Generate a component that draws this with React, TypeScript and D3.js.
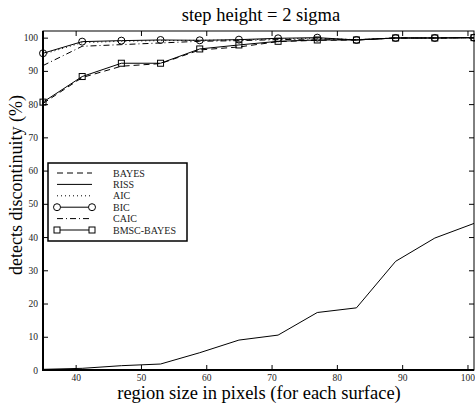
import React, { useEffect, useRef } from "react";
import * as d3 from "d3";

const sizes = [35, 41, 47, 53, 59, 65, 71, 77, 83, 89, 95, 101];
const bayes = [80.2, 88.0, 91.4, 92.2, 96.3, 97.2, 98.8, 99.2, 99.3, 99.9, 99.9, 100];
const riss = [0.2, 0.5, 1.3, 1.8, 5.2, 9.0, 10.5, 17.3, 18.7, 32.7, 39.7, 44.1];
const aic = [95.0, 98.5, 98.9, 99.1, 99.2, 99.3, 99.6, 99.8, 99.4, 99.9, 99.9, 100];
const bic = [95.3, 98.8, 99.1, 99.3, 99.2, 99.4, 99.8, 100, 99.3, 99.9, 99.9, 100];
const caic = [91.6, 97.4, 97.9, 98.4, 98.9, 99.1, 99.4, 99.6, 99.4, 99.9, 99.9, 100];
const bmsc = [80.6, 88.3, 92.3, 92.3, 96.6, 97.8, 98.9, 99.3, 99.3, 99.9, 99.9, 100];

const xTicks = [40, 50, 60, 70, 80, 90, 100];
const yTicks = [0, 10, 20, 30, 40, 50, 60, 70, 80, 90, 100];

const seriesNames = ["BAYES", "RISS", "AIC", "BIC", "CAIC", "BMSC-BAYES"];
const seriesValues = [bayes, riss, aic, bic, caic, bmsc];
const dashes = ["6,4", null, "1,3", null, "6,3,1,3", null];
const markers = [null, null, null, "circle", null, "square"];

export default function App() {
  const ref = useRef<SVGSVGElement>(null);

  useEffect(() => {
    const svg = d3.select(ref.current);
    svg.selectAll("*").remove();
    const width = 475;
    const height = 409;
    const margin = { top: 31, left: 43, bottom: 39, right: 1 };
    const iwidth = width - margin.left - margin.right;
    const iheight = height - margin.top - margin.bottom;
    const font = "'Liberation Serif', 'Times New Roman', serif";

    const x = d3.scaleLinear().domain([35, 101]).range([0, iwidth]);
    const y = d3.scaleLinear().domain([0, 102]).range([iheight, 0]);

    const g = svg
      .append("g")
      .attr("transform", `translate(${margin.left},${margin.top})`);

    // lines
    const line = d3
      .line<number>()
      .x((d, i) => x(sizes[i]))
      .y((d) => y(d));

    seriesValues.forEach((vals, k) => {
      g.append("path")
        .datum(vals)
        .attr("d", line)
        .attr("fill", "none")
        .attr("stroke", "#000")
        .attr("stroke-width", 1)
        .attr("stroke-dasharray", dashes[k]);
      if (markers[k] === "circle") {
        g.selectAll(null)
          .data(vals)
          .enter()
          .append("circle")
          .attr("cx", (d, i) => x(sizes[i]))
          .attr("cy", (d) => y(d))
          .attr("r", 3.5)
          .attr("fill", "none")
          .attr("stroke", "#000");
      }
      if (markers[k] === "square") {
        g.selectAll(null)
          .data(vals)
          .enter()
          .append("rect")
          .attr("x", (d, i) => x(sizes[i]) - 3)
          .attr("y", (d) => y(d) - 3)
          .attr("width", 6)
          .attr("height", 6)
          .attr("fill", "none")
          .attr("stroke", "#000");
      }
    });

    // axes (ticks inward, box)
    const tickLen = 5;
    const xAxis = g
      .append("g")
      .attr("transform", `translate(0,${iheight})`)
      .call(d3.axisBottom(x).tickValues(xTicks).tickSizeInner(-tickLen).tickSizeOuter(0).tickPadding(4));
    const yAxis = g
      .append("g")
      .call(d3.axisLeft(y).tickValues(yTicks).tickSizeInner(-tickLen).tickSizeOuter(0).tickPadding(5));
    g.append("g")
      .call(d3.axisTop(x).tickValues(xTicks).tickSizeInner(-tickLen).tickSizeOuter(0).tickFormat(() => ""));
    g.append("g")
      .attr("transform", `translate(${iwidth},0)`)
      .call(d3.axisRight(y).tickValues(yTicks).tickSizeInner(-tickLen).tickSizeOuter(0).tickFormat(() => ""));

    [xAxis, yAxis].forEach((a) => {
      a.selectAll("text").style("font-family", font).style("font-size", "9.5px").attr("fill", "#222");
    });
    g.selectAll(".domain").remove();
    g.selectAll(".tick line").attr("stroke", "#000");

    g.append("rect")
      .attr("width", iwidth)
      .attr("height", iheight)
      .attr("fill", "none")
      .attr("stroke", "#000")
      .attr("stroke-width", 1);
    g.append("path")
      .attr("d", `M0,0V${iheight}H${iwidth}`)
      .attr("fill", "none")
      .attr("stroke", "#000")
      .attr("stroke-width", 2);

    // legend
    const lg = g.append("g").attr("transform", "translate(5,132)");
    lg.append("rect")
      .attr("width", 139)
      .attr("height", 78)
      .attr("fill", "#fff")
      .attr("stroke", "#000")
      .attr("stroke-width", 1.5);
    seriesNames.forEach((name, k) => {
      const ly = 10 + k * 11.4;
      lg.append("line")
        .attr("x1", 9)
        .attr("x2", 44)
        .attr("y1", ly)
        .attr("y2", ly)
        .attr("stroke", "#000")
        .attr("stroke-dasharray", dashes[k]);
      if (markers[k] === "circle") {
        [9, 44].forEach((cx) =>
          lg.append("circle").attr("cx", cx).attr("cy", ly).attr("r", 3.5).attr("fill", "#fff").attr("stroke", "#000")
        );
      }
      if (markers[k] === "square") {
        [9, 44].forEach((cx) =>
          lg.append("rect").attr("x", cx - 3).attr("y", ly - 3).attr("width", 6).attr("height", 6).attr("fill", "#fff").attr("stroke", "#000")
        );
      }
      lg.append("text")
        .attr("x", 65)
        .attr("y", ly + 3.5)
        .style("font-family", font)
        .style("font-size", "10px")
        .attr("fill", "#222")
        .text(name);
    });

    // title and labels
    svg.append("text")
      .attr("x", 261)
      .attr("y", 21)
      .style("text-anchor", "middle")
      .style("font-family", font)
      .style("font-size", "18.5px")
      .text("step height = 2 sigma");
    svg.append("text")
      .attr("x", 259)
      .attr("y", 399)
      .style("text-anchor", "middle")
      .style("font-family", font)
      .style("font-size", "18.5px")
      .text("region size in pixels (for each surface)");
    svg.append("text")
      .attr("transform", "translate(22,185) rotate(-90)")
      .style("text-anchor", "middle")
      .style("font-family", font)
      .style("font-size", "18px")
      .text("detects discontinuity (%)");
  }, []);

  return (
    <svg
      ref={ref}
      width={475}
      height={409}
      style={{ position: "absolute", left: 0, top: 0, background: "#fff" }}
    />
  );
}
